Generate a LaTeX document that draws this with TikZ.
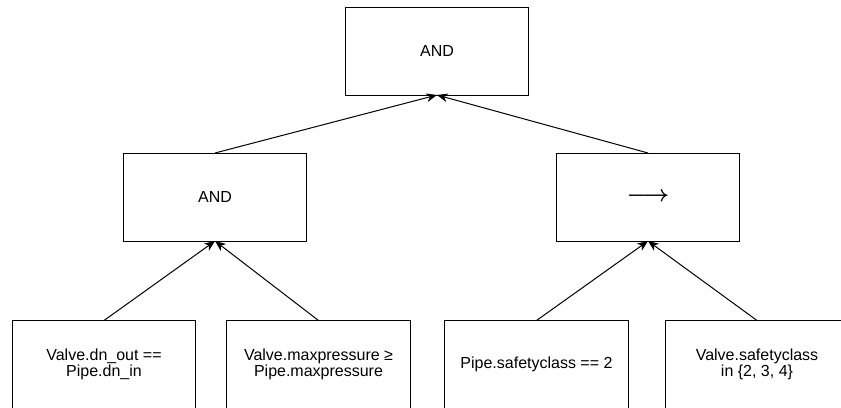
\documentclass[tikz,border=0pt]{standalone}
\usepackage{fontspec}
\setmainfont{Liberation Sans}
\usetikzlibrary{arrows.meta}
\newcommand\myboldarrow{\mbox{\fontsize{16.5}{18}\selectfont\mathversion{bold}$\longrightarrow$}}
\begin{document}
\begin{tikzpicture}[x=0.75pt,y=-0.75pt,
  box/.style={draw, line width=0.75pt, rectangle, inner sep=0pt, outer sep=0pt,
    minimum width=137.5pt, minimum height=66pt, align=center,
    font=\fontsize{12}{11}\selectfont},
  conn/.style={line width=0.75pt, -{Stealth[length=8pt,width=6.5pt,inset=2.5pt]}}]
\useasboundingbox (0,0) rectangle (841,407);
\clip (0,0) rectangle (841,407);
\node[box] (top) at (437,51) {AND};
\node[box] (ml) at (215,197) {AND};
\node[box] (mr) at (648,197) {\myboldarrow};
\node[box] (b1) at (104,364.5) {Valve.dn\_out ==\\Pipe.dn\_in};
\node[box] (b2) at (318.5,364.5) {Valve.maxpressure ≥\\Pipe.maxpressure};
\node[box] (b3) at (536.5,364.5) {Pipe.safetyclass == 2};
\node[box] (b4) at (757,364.5) {Valve.safetyclass\\in \{2, 3, 4\}};
\draw[conn] (ml.north) -- (top.south);
\draw[conn] (mr.north) -- (top.south);
\draw[conn] (b1.north) -- (ml.south);
\draw[conn] (b2.north) -- (ml.south);
\draw[conn] (b3.north) -- (mr.south);
\draw[conn] (b4.north) -- (mr.south);
\end{tikzpicture}
\end{document}
